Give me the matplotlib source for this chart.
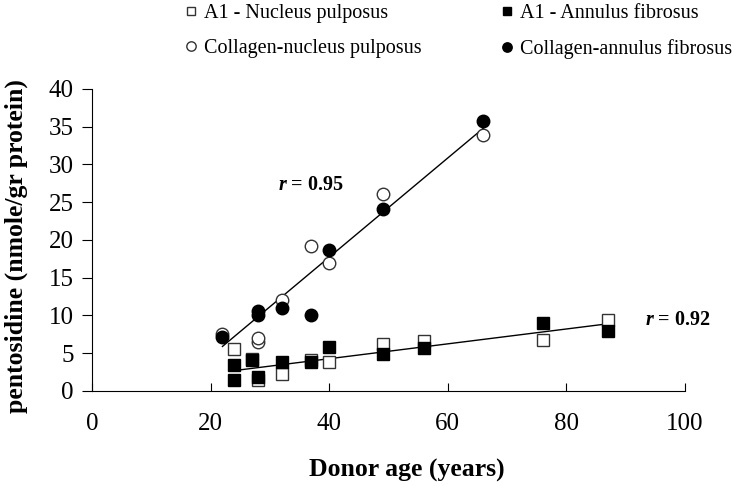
import matplotlib
matplotlib.use("Agg")
import matplotlib.pyplot as plt

plt.rcParams["font.family"] = "Liberation Serif"
plt.rcParams["mathtext.fontset"] = "custom"
plt.rcParams["mathtext.it"] = "Liberation Serif:italic:bold"
plt.rcParams["mathtext.rm"] = "Liberation Serif:bold"

# A1 - nucleus pulposus (open squares)
a1_np_age = [24, 27, 28, 32, 37, 40, 49, 56, 76, 87]
a1_np_val = [5.5, 4.3, 1.5, 2.2, 4.1, 3.9, 6.2, 6.6, 6.8, 9.4]
# A1 - annulus fibrosus (filled squares)
a1_af_age = [24, 24, 27, 28, 32, 37, 40, 49, 56, 76, 87]
a1_af_val = [3.4, 1.5, 4.1, 1.8, 3.9, 3.8, 5.8, 4.9, 5.7, 9.0, 8.0]
# collagen - nucleus pulposus (open circles)
col_np_age = [22, 28, 28, 32, 37, 40, 49, 66]
col_np_val = [7.5, 6.5, 7.0, 12.0, 19.2, 17.0, 26.1, 33.9]
# collagen - annulus fibrosus (filled circles)
col_af_age = [22, 28, 28, 32, 37, 40, 49, 66]
col_af_val = [7.2, 10.0, 10.6, 11.0, 10.1, 18.7, 24.1, 35.8]

# regression lines (end points)
fit_col_x = [22, 66]
fit_col_y = [5.9, 34.8]
fit_a1_x = [25, 87]
fit_a1_y = [2.8, 8.9]

fig = plt.figure(figsize=(7.32, 4.86), dpi=100)
ax = fig.add_axes([0.1257, 0.1955, 0.81, 0.6214])

ms = 8
ax.plot(fit_col_x, fit_col_y, color="black", lw=1, zorder=2)
ax.plot(fit_a1_x, fit_a1_y, color="black", lw=1, zorder=2)

h1, = ax.plot(a1_np_age, a1_np_val, "s", ms=ms, mfc="white", mec="#333333", mew=1,
              ls="none", label="A1 - Nucleus pulposus", zorder=3)
h2, = ax.plot(a1_af_age, a1_af_val, "s", ms=ms, mfc="black", mec="black", mew=1,
              ls="none", label="A1 - Annulus fibrosus", zorder=4)
h3, = ax.plot(col_np_age, col_np_val, "o", ms=ms + 1, mfc="white", mec="#333333", mew=1,
              ls="none", label="Collagen-nucleus pulposus", zorder=3)
h4, = ax.plot(col_af_age, col_af_val, "o", ms=ms + 1, mfc="black", mec="black", mew=1,
              ls="none", label="Collagen-annulus fibrosus", zorder=4)

ax.text(31.4, 27.3, r"$r$ = 0.95", fontsize=14.5, fontweight="bold", va="center", ha="left")
ax.text(93.3, 9.4, r"$r$ = 0.92", fontsize=14.5, fontweight="bold", va="center", ha="left")

ax.set_xlim(0, 100)
ax.set_ylim(0, 40)
ax.set_xticks(range(0, 101, 20))
ax.set_yticks(range(0, 41, 5))
ax.spines["top"].set_visible(False)
ax.spines["right"].set_visible(False)
ax.tick_params(axis="x", direction="in", length=6, labelsize=18, pad=16)
ax.tick_params(axis="y", direction="out", length=7, labelsize=18, pad=6)

ax.set_xlabel("Donor age (years)", fontsize=18.5, fontweight="bold")
ax.xaxis.set_label_coords(0.531, -0.225)
ax.set_ylabel("pentosidine (nmole/gr protein)", fontsize=18.5, fontweight="bold")
ax.yaxis.label.set_va("center")
ax.yaxis.set_label_coords(-0.128, 0.48)

# matplotlib fills legend columns first, so order handles column by column
fig.legend([h1, h3, h2, h4], [h.get_label() for h in [h1, h3, h2, h4]],
           loc="upper left", bbox_to_anchor=(184 / 732, 1 - 2 / 486), ncol=2, frameon=False,
           fontsize=14.5, markerscale=0.75, handlelength=0.5, handletextpad=0.4,
           columnspacing=4.0, labelspacing=0.8, borderaxespad=0, borderpad=0.1)

fig.savefig("out.png", dpi=100)
